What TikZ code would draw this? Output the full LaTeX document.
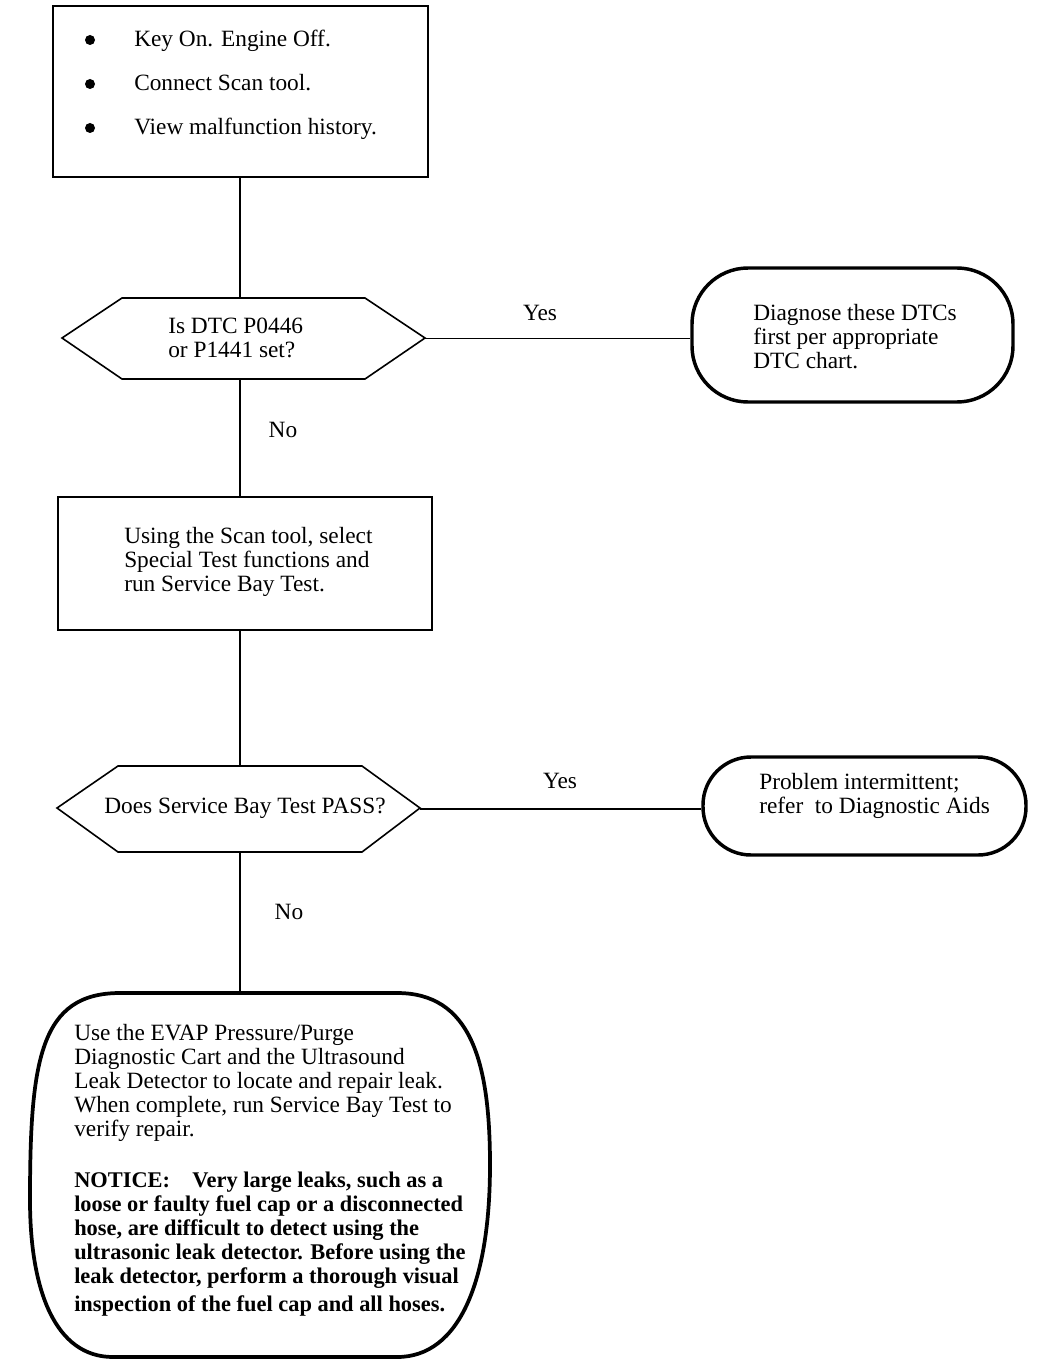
\documentclass[tikz,border=0pt]{standalone}
\usepackage{fontspec}
\setmainfont{Liberation Serif}
\usetikzlibrary{fit}
\begin{document}
\begin{tikzpicture}[x=0.75pt,y=-0.75pt,
  thinbox/.style={draw, line width=1.2pt, inner sep=0pt},
  heavybox/.style={draw, line width=2.6pt, inner sep=0pt},
  conn/.style={line width=1.2pt},
  txt/.style={inner sep=0pt, align=left, anchor=base west, font=\fontsize{17.5}{18}\selectfont},
  btxt/.style={txt, font=\fontsize{16.8}{18}\selectfont\bfseries},
  bul/.style={circle, fill=black, inner sep=0pt, minimum size=7.5pt}
]
\useasboundingbox (0,0) rectangle (1040,1366);
\coordinate (spine) at (240,0);

% box 1
\node[thinbox, fit={(53,6) (428,177)}] (box1) {};
\node[bul] (b1) at (90,40) {};
\node[bul] (b2) at (90,84) {};
\node[bul] (b3) at (90,128) {};
\node[txt] (t1) at (134,47) {Key On. Engine Off.};
\node[txt] (t2) at (134,91) {Connect Scan tool.};
\node[txt] (t3) at (134,135) {View malfunction history.};

% hexagon 1
\draw[line width=1.2pt] (62,338) -- (122,298) -- (365,298) -- (425,338) -- (365,379) -- (122,379) -- cycle;
\node[inner sep=0pt, fit={(62,298) (425,379)}] (hex1) {};
\node[txt] (th1) at (168,357) {Is DTC P0446\\or P1441 set?};

% diagnose box
\node[heavybox, rounded corners=42pt, fit={(692,268) (1013,402)}] (diag) {};
\node[txt] (td) at (753,368) {Diagnose these DTCs\\first per appropriate\\DTC chart.};

% box 2
\node[thinbox, fit={(58,497) (432,630)}] (box2) {};
\node[txt] (tb2) at (124,591) {Using the Scan tool, select\\Special Test functions and\\run Service Bay Test.};

% hexagon 2
\draw[line width=1.2pt] (57,808) -- (118,766) -- (362,766) -- (420,808) -- (362,852) -- (118,852) -- cycle;
\node[inner sep=0pt, fit={(57,766) (420,852)}] (hex2) {};
\node[txt] (th2) at (104,813) {Does Service Bay Test PASS?};

% problem box
\node[heavybox, rounded corners=36pt, fit={(703,757) (1026,855)}] (prob) {};
\node[txt] (tp) at (759,813) {Problem intermittent;\\refer\ \ to Diagnostic Aids};

% bottom shape
\draw[line width=2.8pt] (120,993) -- (397,993) .. controls (470,993) and (490,1060) .. (490,1165)
  .. controls (490,1280) and (460,1357) .. (397,1357) -- (113,1357)
  .. controls (55,1357) and (30,1290) .. (30,1200)
  .. controls (30,1060) and (40,993) .. (120,993) -- cycle;
\node[inner sep=0pt, fit={(30,993) (490,1357)}] (evap) {};
\node[txt] (te1) at (74,1136) {Use the EVAP Pressure/Purge\\Diagnostic Cart and the Ultrasound\\Leak Detector to locate and repair leak.\\When complete, run Service Bay Test to\\verify repair.};
\node[btxt] (te2) at (74,1311) {NOTICE:\quad Very large leaks, such as a\\loose or faulty fuel cap or a disconnected\\hose, are difficult to detect using the\\ultrasonic leak detector. Before using the\\leak detector, perform a thorough visual\\[3pt]inspection of the fuel cap and all hoses.};

% connectors
\draw[conn] (box1.south -| spine) -- (hex1.north -| spine);
\draw[conn] (hex1.south -| spine) -- (box2.north -| spine);
\draw[conn] (box2.south -| spine) -- (hex2.north -| spine);
\draw[conn] (hex2.south -| spine) -- (evap.north -| spine);
\draw[conn] (hex1.east) -- (hex1.east -| diag.west);
\draw[conn] (hex2.east) -- (hex2.east -| prob.west);

% labels
\node[txt, anchor=base] (y1) at (540,320) {Yes};
\node[txt, anchor=base] (n1) at (283,437) {No};
\node[txt, anchor=base] (y2) at (560,788) {Yes};
\node[txt, anchor=base] (n2) at (289,919) {No};
\end{tikzpicture}
\end{document}
